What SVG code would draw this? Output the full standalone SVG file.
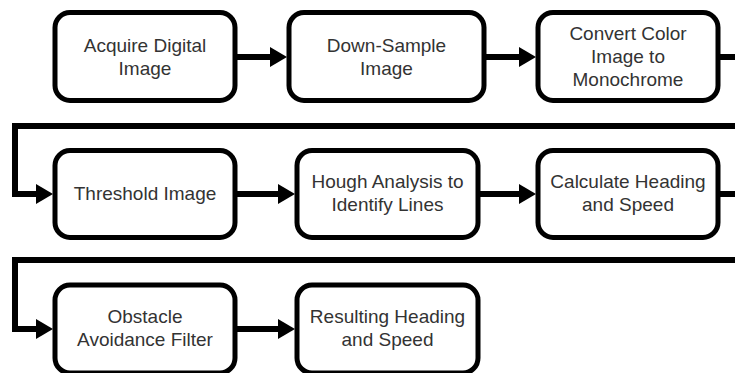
<svg xmlns="http://www.w3.org/2000/svg" width="735" height="373" viewBox="0 0 735 373">
<defs>
<marker id="ah" viewBox="0 0 17 20" refX="0" refY="10" markerWidth="17" markerHeight="20" markerUnits="userSpaceOnUse" orient="auto">
<path d="M0,0 L17,10 L0,20 Z" fill="#000"/>
</marker>
<style>
.box{fill:#fff;stroke:#000;stroke-width:5}
.t{font-family:"Liberation Sans",Arial,sans-serif;font-size:19px;fill:#333;text-anchor:middle}
.c{fill:none;stroke:#000;stroke-width:6;stroke-linejoin:miter}
.ca{fill:none;stroke:#000;stroke-width:6;marker-end:url(#ah)}
</style>
</defs>
<rect width="735" height="373" fill="#fff"/>
<g id="connectors">
<path class="ca" d="M237,57 H270"/>
<path class="ca" d="M484,57 H519"/>
<path class="c" d="M718,57 H735"/>
<path class="ca" d="M735,126 H15 V194 H36"/>
<path class="ca" d="M237,194 H278"/>
<path class="ca" d="M478,194 H519"/>
<path class="c" d="M718,194 H735"/>
<path class="ca" d="M735,260 H15 V329 H36"/>
<path class="ca" d="M237,329 H278"/>
</g>
<g id="n1"><rect class="box" x="55" y="12.5" width="180" height="88" rx="15"/>
<text class="t" x="145" y="52">Acquire Digital</text><text class="t" x="145" y="75">Image</text></g>
<g id="n2"><rect class="box" x="289" y="12.5" width="195" height="88" rx="15"/>
<text class="t" x="386.5" y="52">Down-Sample</text><text class="t" x="386.5" y="75">Image</text></g>
<g id="n3"><rect class="box" x="538" y="12.5" width="180" height="88" rx="15"/>
<text class="t" x="628" y="40">Convert Color</text><text class="t" x="628" y="63">Image to</text><text class="t" x="628" y="86">Monochrome</text></g>
<g id="n4"><rect class="box" x="55" y="150.5" width="180" height="87" rx="15"/>
<text class="t" x="145" y="200">Threshold Image</text></g>
<g id="n5"><rect class="box" x="297" y="150.5" width="181" height="87" rx="15"/>
<text class="t" x="387.5" y="188">Hough Analysis to</text><text class="t" x="387.5" y="211">Identify Lines</text></g>
<g id="n6"><rect class="box" x="538" y="150.5" width="180" height="87" rx="15"/>
<text class="t" x="628" y="188">Calculate Heading</text><text class="t" x="628" y="211">and Speed</text></g>
<g id="n7"><rect class="box" x="55" y="285" width="180" height="88" rx="15"/>
<text class="t" x="145" y="323">Obstacle</text><text class="t" x="145" y="346">Avoidance Filter</text></g>
<g id="n8"><rect class="box" x="297" y="285" width="181" height="88" rx="15"/>
<text class="t" x="387.5" y="323">Resulting Heading</text><text class="t" x="387.5" y="346">and Speed</text></g>
</svg>
